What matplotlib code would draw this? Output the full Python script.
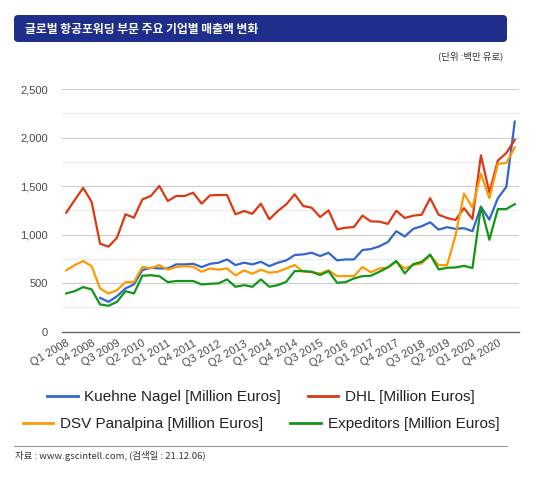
import numpy as np
import matplotlib
matplotlib.use("Agg")
import matplotlib.pyplot as plt
from matplotlib.lines import Line2D
from matplotlib.patches import FancyBboxPatch
from matplotlib.ticker import MultipleLocator, FuncFormatter

plt.rcParams['font.family'] = ['Liberation Sans', 'DejaVu Sans']

# quarterly revenue, Q1 2008 .. Q2 2021 (million euros)
tick_labels = ["Q1 2008", "Q4 2008", "Q3 2009", "Q2 2010", "Q1 2011", "Q4 2011",
               "Q3 2012", "Q2 2013", "Q1 2014", "Q4 2014", "Q3 2015", "Q2 2016",
               "Q1 2017", "Q4 2017", "Q3 2018", "Q2 2019", "Q1 2020", "Q4 2020"]

kuehne_nagel = [None, None, None, None,
                347, 306, 364, 444, 485, 633, 657, 650, 650, 692,
                692, 698, 664, 698, 709, 743, 685, 709, 692, 719,
                674, 709, 733, 788, 795, 812, 778, 812, 733, 743,
                743, 840, 850, 878, 922, 1034, 980, 1058, 1085, 1126,
                1051, 1075, 1058, 1065, 1034, 1286, 1153, 1374, 1490, 2163]

dhl = [1225, 1355, 1480, 1338, 905, 875, 967, 1208, 1173, 1362,
       1397, 1500, 1345, 1397, 1397, 1431, 1318, 1404, 1407, 1407,
       1208, 1242, 1214, 1318, 1156, 1242, 1311, 1414, 1294, 1276,
       1180, 1249, 1053, 1070, 1077, 1195, 1135, 1133, 1109, 1245,
       1170, 1194, 1204, 1374, 1204, 1170, 1150, 1272, 1160, 1816,
       1432, 1762, 1840, 1976]

dsv_panalpina = [630, 685, 726, 674, 444, 392, 426, 509, 509, 667,
                 650, 685, 637, 664, 674, 667, 616, 650, 637, 650,
                 578, 630, 595, 637, 606, 616, 650, 685, 616, 612,
                 599, 630, 571, 571, 571, 665, 610, 650, 660, 718,
                 650, 684, 701, 786, 684, 684, 990, 1422, 1279, 1626,
                 1374, 1728, 1738, 1898]

expeditors = [392, 416, 458, 434, 279, 265, 306, 416, 392, 575,
              580, 570, 509, 520, 520, 520, 485, 492, 496, 537,
              461, 478, 461, 537, 461, 478, 513, 623, 623, 616,
              582, 623, 502, 509, 547, 571, 575, 616, 660, 728,
              599, 694, 718, 793, 640, 657, 660, 677, 654, 1286,
              946, 1262, 1262, 1313]

series = [
    ("Kuehne Nagel [Million Euros]", kuehne_nagel, "#3366cc"),
    ("DHL [Million Euros]", dhl, "#dc3912"),
    ("DSV Panalpina [Million Euros]", dsv_panalpina, "#ff9900"),
    ("Expeditors [Million Euros]", expeditors, "#109618"),
]

fig = plt.figure(figsize=(5.41, 4.79), dpi=100)
ax = fig.add_axes([62 / 541, 1 - 331.5 / 479, 457 / 541, 242.5 / 479])

x = np.arange(len(dhl))
handles = []
for name, vals, col in series:
    y = np.array([np.nan if v is None else v for v in vals], dtype=float)
    h, = ax.plot(x, y, color=col, lw=1.6, label=name)
    handles.append(h)

ax.set_xlim(-0.5, len(dhl) - 0.5)
ax.set_ylim(0, 2500)
ax.yaxis.set_major_locator(MultipleLocator(500))
ax.yaxis.set_minor_locator(MultipleLocator(250))
ax.yaxis.set_major_formatter(FuncFormatter(lambda v, p: f"{int(v):,}"))
ax.grid(axis="y", which="major", color="#cccccc", lw=0.8)
ax.grid(axis="y", which="minor", color="#ececec", lw=0.8)
ax.set_axisbelow(True)

ax.set_xticks(x[::3][:len(tick_labels)])
ax.set_xticklabels(tick_labels, rotation=30, ha="right", rotation_mode="anchor")
ax.tick_params(axis="both", length=0, labelsize=8, labelcolor="#4a4a4a")
ax.tick_params(axis="y", pad=10)
ax.tick_params(axis="x", pad=5)
ax.tick_params(axis="y", which="minor", length=0)

for s in ["top", "right", "left"]:
    ax.spines[s].set_visible(False)
ax.spines["bottom"].set_color("#666666")
ax.spines["bottom"].set_linewidth(1)

# legend, two centered rows like the original
leg_kw = dict(frameon=False, fontsize=11, handlelength=2.0, handletextpad=0.45,
              columnspacing=1.75, ncol=2, loc="center", labelcolor="#222222")
leg1 = fig.legend(handles[:2], [s[0] for s in series[:2]],
                  bbox_to_anchor=(261 / 541, 1 - 397 / 479), **leg_kw)
leg2 = fig.legend(handles[2:], [s[0] for s in series[2:]],
                  bbox_to_anchor=(261 / 541, 1 - 424 / 479), **leg_kw)
for lg in (leg1, leg2):
    for ln in lg.get_lines():
        ln.set_linewidth(2)

kr = ['Noto Sans CJK KR', 'DejaVu Sans']

# header bar
fig.add_artist(FancyBboxPatch((14 / 541, 1 - 42 / 479), 493 / 541, 27 / 479,
                              boxstyle="round,pad=0,rounding_size=0.008",
                              transform=fig.transFigure, fc="#1e2e8a", ec="none"))
fig.text(25 / 541, 1 - 29 / 479, "글로벌 항공포워딩 부문 주요 기업별 매출액 변화",
         color="white", fontsize=8.5, fontweight="bold", va="center", family=kr)
fig.text(503 / 541, 1 - 56 / 479, "(단위 :백만 유로)", ha="right", va="center",
         fontsize=6.8, color="#333333", family=kr)

fig.add_artist(Line2D([14 / 541, 507 / 541], [1 - 446 / 479, 1 - 446 / 479],
                      transform=fig.transFigure, color="#999999", lw=0.8))
fig.text(15 / 541, 1 - 456 / 479, "자료 : www.gscintell.com, (검색일 : 21.12.06)",
         va="center", fontsize=6.8, color="#333333", family=kr)

fig.savefig("out.png", dpi=100)
